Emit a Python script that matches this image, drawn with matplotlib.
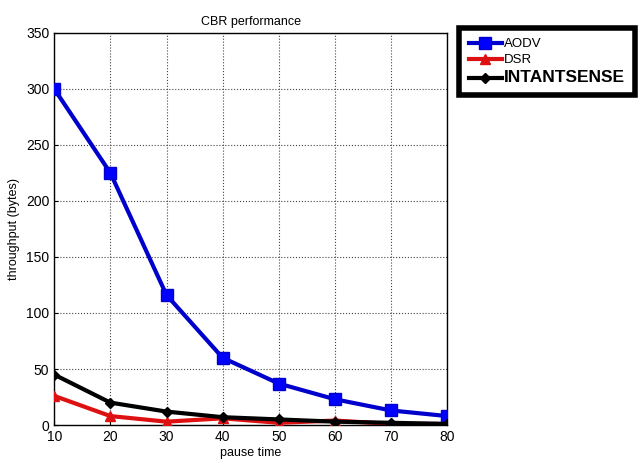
import matplotlib
matplotlib.use("Agg")
import matplotlib.pyplot as plt

# --- data ---
pause_time = [10, 20, 30, 40, 50, 60, 70, 80]
aodv = [300, 225, 116, 60, 37, 23, 13, 8]
dsr = [26, 8, 3, 6, 2, 4, 1, 1]
intantsense = [45, 20, 12, 7, 5, 3, 2, 1]

plt.rcParams["font.family"] = ["Liberation Sans", "DejaVu Sans"]

fig = plt.figure(figsize=(6.38, 4.63), dpi=100)
ax = fig.add_axes([0.085, 0.082, 0.616, 0.847])

ax.plot(pause_time, aodv, color="#0000cc", lw=3, marker="s", ms=8,
        mfc="#0000ff", mec="#0000cc", label="AODV", zorder=3)
ax.plot(pause_time, dsr, color="#dd1111", lw=3, marker="^", ms=7,
        label="DSR", zorder=3)
ax.plot(pause_time, intantsense, color="black", lw=3, marker="D", ms=5,
        label="INTANTSENSE", zorder=4)

ax.set_xlim(10, 80)
ax.set_ylim(0, 350)
ax.set_xticks(pause_time)
ax.set_yticks(range(0, 351, 50))
ax.tick_params(direction="in", labelsize=10, length=3)
ax.grid(True, color="#444444", linestyle=":", lw=0.8)
for sp in ax.spines.values():
    sp.set_linewidth(1)

ax.set_title("CBR performance", fontsize=9)
ax.set_xlabel("pause time", fontsize=9, labelpad=2)
ax.set_ylabel("throughput (bytes)", fontsize=9)

leg = fig.legend(loc="upper left", bbox_to_anchor=(0.713, 0.948),
                 fancybox=False, framealpha=1, edgecolor="black",
                 fontsize=9.5, handlelength=2.5, borderpad=0.75,
                 labelspacing=0.3, handletextpad=0.2, borderaxespad=0.3)
leg.get_frame().set_linewidth(4)
leg.get_texts()[2].set_fontweight("bold")
leg.get_texts()[2].set_fontsize(12.5)

fig.savefig("out.png", dpi=100)
